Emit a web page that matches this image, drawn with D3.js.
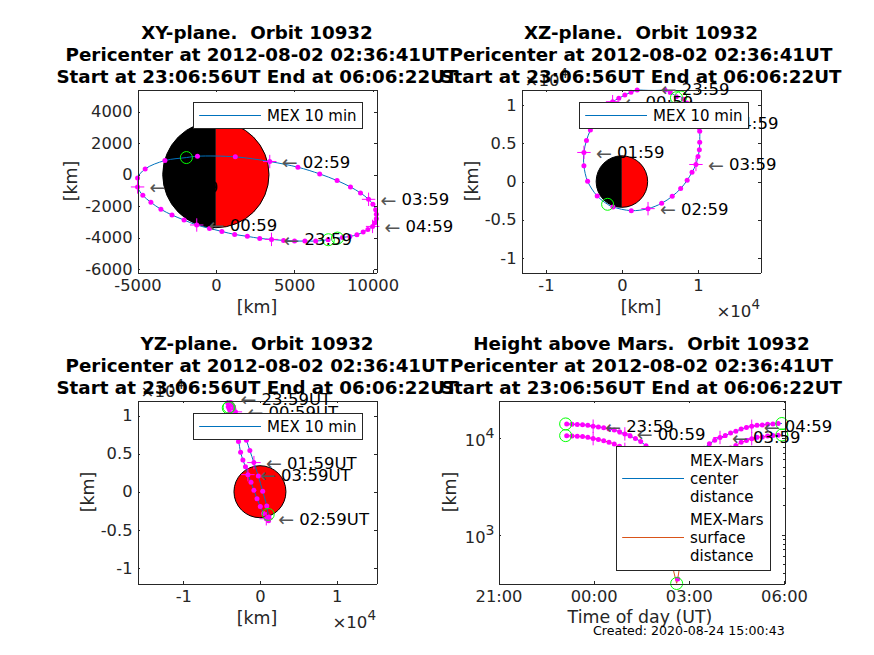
<!DOCTYPE html>
<html>
<head>
<meta charset="utf-8">
<style>
body { margin: 0; background: #fff; }
svg { display: block; font-family: "DejaVu Sans", sans-serif; }
.axis path, .axis line { stroke: #262626; stroke-width: 1; shape-rendering: crispEdges; }
.axis text { fill: #262626; font-size: 16.3px; font-family: "DejaVu Sans", sans-serif; }
.title { font-size: 18.3px; font-weight: bold; fill: #000; text-anchor: middle; white-space: pre; }
.axis-label { font-size: 17.4px; fill: #262626; text-anchor: middle; }
.multiplier { font-size: 16.6px; fill: #262626; }
.legend-text { font-size: 15px; fill: #000; }
.mark-label { font-size: 16.5px; fill: #000; }
.mark-arrow { font-size: 19px; fill: #555; }
</style>
</head>
<body>
<div id="chart"></div>
<script src="https://cdn.jsdelivr.net/npm/d3@7"></script>
<script>
/*global d3*/
// MEX position along the orbit, in km, with distances to Mars
var orbitTimes = ['23:07', '23:09', '23:19', '23:29', '23:39', '23:49', '23:59', '00:09', '00:19', '00:29',
    '00:39', '00:49', '00:59', '01:09', '01:19', '01:29', '01:39', '01:49', '01:59', '02:09', '02:19', '02:29',
    '02:37', '02:39', '02:49', '02:59', '03:09', '03:19', '03:29', '03:39', '03:49', '03:59', '04:09', '04:19',
    '04:29', '04:39', '04:49', '04:59', '05:09', '05:19', '05:29', '05:39', '05:49', '05:56'];
var orbitX = [7180, 7160, 6370, 5680, 5020, 4320, 3550, 2800, 2010, 1200,
    385, -405, -1220, -2030, -2800, -3505, -4145, -4660, -4995, -4995, -4510, -3250,
    -1880, -1175, 1240, 3440, 5235, 6625, 7735, 8590, 9230, 9745, 10020, 10195,
    10240, 10240, 10150, 10000, 9700, 9400, 9000, 8550, 8080, 7760];
var orbitY = [-4136, -4136, -4220, -4220, -4220, -4180, -4115, -4050, -3920, -3800,
    -3610, -3415, -3200, -2885, -2565, -2205, -1760, -1315, -785, -212, 360, 890,
    1080, 1165, 1125, 827, 467, 42, -382, -785, -1167, -1570, -1888, -2227,
    -2524, -2800, -3055, -3290, -3478, -3650, -3820, -3925, -3990, -4030];
var orbitZ = [11000, 11140, 11670, 12020, 12150, 12200, 12180, 12130, 12020, 11710,
    11360, 10920, 10480, 9700, 8900, 8000, 6750, 5400, 3820, 2060, 45, -1890,
    -2980, -3330, -3815, -3550, -2850, -1930, -920, 175, 1230, 2240, 3290, 4170,
    5175, 6600, 7150, 7650, 8400, 9170, 9810, 10320, 10810, 11100];
var centerDistance = [13950, 13930, 13870, 13790, 13700, 13540, 13220, 12990, 12760, 12400,
    12050, 11600, 11000, 10450, 9860, 9180, 8300, 7350, 6400, 5400, 4530, 3860,
    3701, 3737, 4150, 5010, 5980, 6900, 7800, 8700, 9450, 10100, 10560, 11260,
    11720, 12390, 12790, 13200, 13520, 13630, 13850, 13960, 14070, 14100];
var surfaceDistance = [10560, 10540, 10480, 10400, 10310, 10150, 9830, 9600, 9370, 9010,
    8660, 8210, 7610, 7060, 6470, 5790, 4910, 3960, 3010, 2010, 1140, 470,
    311, 347, 760, 1620, 2590, 3510, 4410, 5310, 6060, 6710, 7170, 7870,
    8330, 9000, 9400, 9810, 10130, 10240, 10460, 10570, 10680, 10710];
var hourTimes = ['23:59', '00:59', '01:59', '02:59', '03:59', '04:59'];
var circleTimes = ['23:07', '02:37', '05:56'];
var marsRadius = 3390;

var titleLines = ['Pericenter at 2012-08-02 02:36:41UT', 'Start at 23:06:56UT End at 06:06:22UT'];
var tickXY = [-5000, 0, 5000, 10000];
var tickYY = [-6000, -4000, -2000, 0, 2000, 4000];
var tickWide = [-10000, 0, 10000];
var tickTall = [-10000, -5000, 0, 5000, 10000];
var tickClock = ['21:00', '00:00', '03:00', '06:00'];

(function () {
    'use strict';

    var MEX_BLUE = '#0072BD',
        ORANGE = '#D95319',
        MAGENTA = '#FF00FF',
        GREEN = '#00FF00',
        parseClock = d3.utcParse('%H:%M'),
        formatClock = d3.utcFormat('%H:%M'),
        clipCount = 0,
        svg = d3.select('#chart').append('svg')
            .attr('width', 874)
            .attr('height', 655);

    // the orbit runs over midnight, morning hours belong to the next day
    function toDate(time) {
        var date = parseClock(time);
        if (date.getUTCHours() < 12) {
            date = d3.utcDay.offset(date, 1);
        }
        return date;
    }

    function plainTick(value) {
        return String(value);
    }

    function scaledTick(value) {
        return String(value / 10000);
    }

    function drawAxes(group, box, x, y, xTicks, yTicks, xFormat, yFormat) {
        var tick = 2.6;
        group.append('g').attr('class', 'axis')
            .attr('transform', 'translate(0,' + box.bottom + ')')
            .call(d3.axisBottom(x).tickValues(xTicks).tickFormat(xFormat)
                .tickSizeInner(-tick).tickSizeOuter(0).tickPadding(7));
        group.append('g').attr('class', 'axis')
            .attr('transform', 'translate(0,' + box.top + ')')
            .call(d3.axisTop(x).tickValues(xTicks).tickFormat('')
                .tickSizeInner(-tick).tickSizeOuter(0));
        group.append('g').attr('class', 'axis')
            .attr('transform', 'translate(' + box.left + ',0)')
            .call(d3.axisLeft(y).tickValues(yTicks).tickFormat(yFormat)
                .tickSizeInner(-tick).tickSizeOuter(0).tickPadding(5));
        group.append('g').attr('class', 'axis')
            .attr('transform', 'translate(' + box.right + ',0)')
            .call(d3.axisRight(y).tickValues(yTicks).tickFormat('')
                .tickSizeInner(-tick).tickSizeOuter(0));
    }

    function drawTitle(group, box, first) {
        [first].concat(titleLines).forEach(function (line, i) {
            group.append('text')
                .attr('class', 'title')
                .attr('x', (box.left + box.right) / 2)
                .attr('y', box.top - 51 + i * 22)
                .text(line);
        });
    }

    function drawAxisLabels(group, box, xLabel, yLabelX) {
        group.append('text')
            .attr('class', 'axis-label')
            .attr('x', (box.left + box.right) / 2)
            .attr('y', box.bottom + 40)
            .text(xLabel);
        group.append('text')
            .attr('class', 'axis-label')
            .attr('transform', 'translate(' + yLabelX + ',' + (box.top + box.bottom) / 2 + ') rotate(-90)')
            .text('[km]');
    }

    function drawMultiplier(group, x, y, anchor) {
        var text = group.append('text')
            .attr('class', 'multiplier')
            .attr('x', x)
            .attr('y', y)
            .attr('text-anchor', anchor);
        text.append('tspan').text('\u00D710');
        text.append('tspan').attr('dy', -8).style('font-size', '13.5px').text('4');
    }

    function drawLegend(group, frame, entries) {
        group.append('rect')
            .attr('x', frame.x)
            .attr('y', frame.y)
            .attr('width', frame.width)
            .attr('height', frame.height)
            .attr('fill', '#fff')
            .attr('stroke', '#262626')
            .attr('shape-rendering', 'crispEdges');
        entries.forEach(function (entry) {
            group.append('line')
                .attr('x1', frame.x + 5.7)
                .attr('x2', frame.x + 67.5)
                .attr('y1', entry.lineY)
                .attr('y2', entry.lineY)
                .attr('stroke', entry.color);
            entry.lines.forEach(function (line, i) {
                group.append('text')
                    .attr('class', 'legend-text')
                    .attr('x', frame.x + 73.5)
                    .attr('y', entry.textY + i * 17.9)
                    .text(line);
            });
        });
    }

    function drawMars(group, x, y, halves) {
        var radius = x(marsRadius) - x(0),
            arc = d3.arc().innerRadius(0).outerRadius(radius),
            mars = group.append('g')
                .attr('transform', 'translate(' + x(0) + ',' + y(0) + ')');
        halves.forEach(function (half) {
            mars.append('path')
                .attr('d', arc({startAngle: half.from, endAngle: half.to}))
                .attr('fill', half.color);
        });
        mars.append('circle')
            .attr('r', radius)
            .attr('fill', 'none')
            .attr('stroke', '#000');
    }

    function drawTrack(group, box, x, y, xValues, yValues, color, curve) {
        var clipId = 'clip' + (clipCount += 1),
            line = d3.line()
                .x(function (d) { return x(xValues[d]); })
                .y(function (d) { return y(yValues[d]); })
                .curve(curve);
        group.append('clipPath').attr('id', clipId)
            .append('rect')
            .attr('x', box.left)
            .attr('y', box.top)
            .attr('width', box.right - box.left)
            .attr('height', box.bottom - box.top);
        group.append('path')
            .attr('clip-path', 'url(#' + clipId + ')')
            .attr('d', line(d3.range(orbitTimes.length)))
            .attr('fill', 'none')
            .attr('stroke', color)
            .attr('stroke-width', 1);
    }

    // markers whose centre leaves the axes are dropped, the rest may stick out
    function drawMarks(group, x, y, xValues, yValues) {
        var inside = d3.range(orbitTimes.length).filter(function (i) {
            var px = x(xValues[i]),
                py = y(yValues[i]),
                xr = x.range(),
                yr = y.range();
            return px >= xr[0] - 0.01 && px <= xr[1] + 0.01 && py <= yr[0] + 0.01 && py >= yr[1] - 0.01;
        });
        group.selectAll(null)
            .data(inside.filter(function (i) { return circleTimes.indexOf(orbitTimes[i]) < 0; }))
            .enter().append('circle')
            .attr('cx', function (i) { return x(xValues[i]); })
            .attr('cy', function (i) { return y(yValues[i]); })
            .attr('r', 2.5)
            .attr('fill', MAGENTA);
        group.selectAll(null)
            .data(inside.filter(function (i) { return hourTimes.indexOf(orbitTimes[i]) >= 0; }))
            .enter().append('path')
            .attr('d', function (i) {
                var px = x(xValues[i]),
                    py = y(yValues[i]);
                return 'M' + (px - 6.7) + ',' + py + 'H' + (px + 6.7) + 'M' + px + ',' + (py - 6.7) + 'V' + (py + 6.7);
            })
            .attr('stroke', MAGENTA)
            .attr('fill', 'none');
        group.selectAll(null)
            .data(inside.filter(function (i) { return circleTimes.indexOf(orbitTimes[i]) >= 0; }))
            .enter().append('circle')
            .attr('cx', function (i) { return x(xValues[i]); })
            .attr('cy', function (i) { return y(yValues[i]); })
            .attr('r', 6)
            .attr('fill', 'none')
            .attr('stroke', GREEN);
    }

    function drawHourLabels(group, x, y, xValues, yValues, suffix) {
        hourTimes.forEach(function (time) {
            var i = orbitTimes.indexOf(time),
                px = x(xValues[i]),
                py = y(yValues[i]);
            group.append('text')
                .attr('class', 'mark-arrow')
                .attr('x', px + 12)
                .attr('y', py + 7.5)
                .text('\u2190');
            group.append('text')
                .attr('class', 'mark-label')
                .attr('x', px + 33)
                .attr('y', py + 6)
                .text(time + suffix);
        });
    }

    function drawOrbitPanel(spec) {
        var box = spec.box,
            group = svg.append('g'),
            x = d3.scaleLinear().domain(spec.xDomain).range([box.left, box.right]),
            y = d3.scaleLinear().domain(spec.yDomain).range([box.bottom, box.top]);
        drawMars(group, x, y, spec.halves);
        drawTrack(group, box, x, y, spec.xValues, spec.yValues, MEX_BLUE, d3.curveCatmullRom);
        drawMarks(group, x, y, spec.xValues, spec.yValues);
        drawAxes(group, box, x, y, spec.xTicks, spec.yTicks, spec.xFormat, spec.yFormat);
        drawHourLabels(group, x, y, spec.xValues, spec.yValues, spec.suffix);
        drawLegend(group, spec.legend, [{
            color: MEX_BLUE,
            lineY: spec.legend.y + 13,
            textY: spec.legend.y + 18.5,
            lines: ['MEX 10 min']
        }]);
        drawAxisLabels(group, box, '[km]', spec.yLabelX);
        if (spec.scaled) {
            drawMultiplier(group, box.right - 0.5, box.bottom + 44.5, 'end');
            drawMultiplier(group, box.left + 3, box.top - 3.5, 'start');
        }
        drawTitle(group, box, spec.title);
    }

    function drawHeightPanel() {
        var box = {left: 498.5, right: 784.5, top: 400.5, bottom: 583.5},
            group = svg.append('g'),
            x = d3.scaleUtc().domain([toDate('21:00'), d3.utcMinute.offset(toDate('06:00'), 1)]).range([box.left, box.right]),
            y = d3.scaleLog().domain([311, 24390]).range([box.bottom, box.top]),
            times = orbitTimes.map(toDate),
            yTicks = [400, 500, 600, 700, 800, 900, 1000, 2000, 3000, 4000, 5000, 6000, 7000, 8000, 9000, 10000, 20000];

        drawTrack(group, box, x, y, times, centerDistance, MEX_BLUE, d3.curveLinear);
        drawTrack(group, box, x, y, times, surfaceDistance, ORANGE, d3.curveLinear);
        drawMarks(group, x, y, times, centerDistance);
        drawMarks(group, x, y, times, surfaceDistance);
        drawAxes(group, box, x, y, tickClock.map(toDate), yTicks, formatClock, function () { return ''; });

        // only the full decades get a long tick and a label
        group.selectAll('.axis').filter(function (d, n) { return n >= 2; }).selectAll('.tick')
            .each(function (d) {
                var major = d === 1000 || d === 10000,
                    mark = d3.select(this).select('line'),
                    side = +mark.attr('x2');
                mark.attr('x2', major ? side : side / 2);
            });
        [1000, 10000].forEach(function (decade) {
            var text = group.append('text')
                .attr('x', box.left - 4)
                .attr('y', y(decade) + 8)
                .attr('text-anchor', 'end')
                .attr('fill', '#262626')
                .style('font-size', '16.3px');
            text.append('tspan').text('10');
            text.append('tspan').attr('dy', -8).style('font-size', '14px').text(String(Math.log10(decade)));
        });
        drawHourLabels(group, x, y, times, centerDistance, '');
        drawLegend(group, {x: 616.5, y: 446.5, width: 154, height: 124}, [{
            color: MEX_BLUE,
            lineY: 478.5,
            textY: 466,
            lines: ['MEX-Mars', 'center', 'distance']
        }, {
            color: ORANGE,
            lineY: 537.5,
            textY: 525,
            lines: ['MEX-Mars', 'surface', 'distance']
        }]);
        group.append('text')
            .attr('class', 'axis-label')
            .attr('x', 640)
            .attr('y', 623)
            .text('Time of day (UT)');
        group.append('text')
            .attr('class', 'axis-label')
            .attr('transform', 'translate(456,' + (box.top + box.bottom) / 2 + ') rotate(-90)')
            .text('[km]');
        drawTitle(group, box, 'Height above Mars.  Orbit 10932');
        group.append('text')
            .attr('x', 593)
            .attr('y', 634.5)
            .attr('fill', '#000')
            .style('font-size', '12.6px')
            .text('Created: 2020-08-24 15:00:43');
    }

    var dayNight = [
            {from: Math.PI, to: 2 * Math.PI, color: '#000'},
            {from: 0, to: Math.PI, color: '#f00'}
        ],
        allRed = [{from: 0, to: 2 * Math.PI, color: '#f00'}];

    drawOrbitPanel({
        title: 'XY-plane.  Orbit 10932',
        box: {left: 137.5, right: 376.5, top: 89.5, bottom: 272.5},
        xDomain: [-5000, 10250],
        yDomain: [-6215, 5400],
        xValues: orbitX,
        yValues: orbitY,
        xTicks: tickXY,
        yTicks: tickYY,
        xFormat: plainTick,
        yFormat: plainTick,
        halves: dayNight,
        suffix: '',
        yLabelX: 77,
        legend: {x: 193.5, y: 102.5, width: 169, height: 26}
    });
    drawOrbitPanel({
        title: 'XZ-plane.  Orbit 10932',
        box: {left: 521.5, right: 760.5, top: 89.5, bottom: 272.5},
        xDomain: [-13210, 18240],
        yDomain: [-11930, 12080],
        xValues: orbitX,
        yValues: orbitZ,
        xTicks: tickWide,
        yTicks: tickTall,
        xFormat: scaledTick,
        yFormat: scaledTick,
        halves: dayNight,
        suffix: '',
        yLabelX: 478,
        scaled: true,
        legend: {x: 579.5, y: 102.5, width: 169, height: 26}
    });
    drawOrbitPanel({
        title: 'YZ-plane.  Orbit 10932',
        box: {left: 137.5, right: 376.5, top: 400.5, bottom: 583.5},
        xDomain: [-15970, 15200],
        yDomain: [-12050, 11970],
        xValues: orbitY,
        yValues: orbitZ,
        xTicks: tickWide,
        yTicks: tickTall,
        xFormat: scaledTick,
        yFormat: scaledTick,
        halves: allRed,
        suffix: 'UT',
        yLabelX: 94,
        scaled: true,
        legend: {x: 193.5, y: 413.5, width: 169, height: 26}
    });
    drawHeightPanel();
}());
</script>
</body>
</html>
